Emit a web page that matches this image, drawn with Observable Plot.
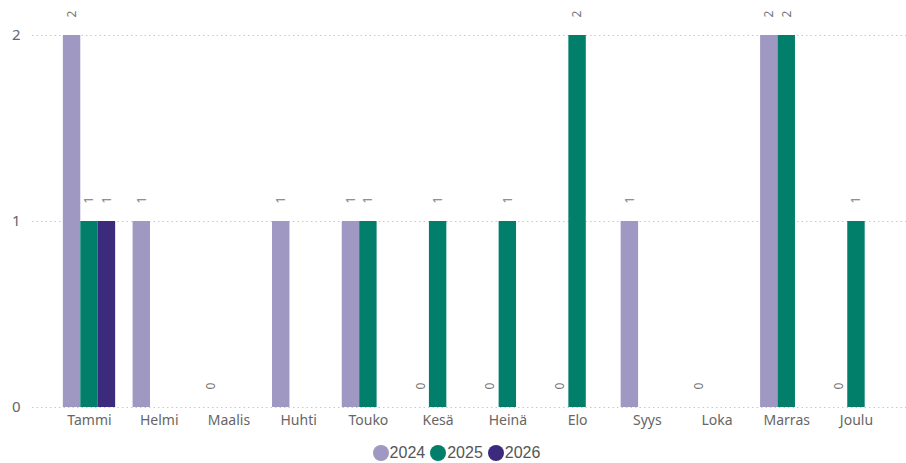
<!DOCTYPE html>
<html>
<head>
<meta charset="utf-8">
<script src="https://cdn.jsdelivr.net/npm/d3@7"></script>
<script src="https://cdn.jsdelivr.net/npm/@observablehq/plot@0.6"></script>
<style>
  body { margin: 0; background: #fff; font-family: "Segoe UI", "Noto Sans", sans-serif; overflow: hidden; }
  #chart svg { display: block; }
  #legend { display: flex; justify-content: center; align-items: center; height: 20px; line-height: 16px; margin-top: 3px; margin-left: 12px; font-family: "Liberation Sans", Arial, sans-serif; font-size: 16px; color: #555; }
  .item { display: flex; align-items: center; margin: 0 5px 0 0; }
  .dot { width: 16px; height: 16px; border-radius: 50%; margin-right: 1px; }
</style>
</head>
<body>
<div id="chart"></div>
<div id="legend"></div>
<script>
const months = ["Tammi","Helmi","Maalis","Huhti","Touko","Kesä","Heinä","Elo","Syys","Loka","Marras","Joulu"];
const years = ["2024","2025","2026"];
const v2024 = [2,1,0,1,1,0,0,0,1,0,2,0];
const v2025 = [1,null,null,null,1,1,1,2,null,null,2,1];
const v2026 = [1,null,null,null,null,null,null,null,null,null,null,null];
const colors = ["#9E98C2","#027F6B","#3C2A7D"];
const yTicks = [0,1,2];

const series = [v2024, v2025, v2026];
const key = (m, y) => m + "|" + y;
// band domain: three bars per month plus one empty gap band
const xDomain = months.flatMap(m => [...years.map(y => key(m, y)), key(m, "gap")]);
const monthTicks = months.map(m => key(m, years[1]));
const data = [];
months.forEach((m, i) => {
  years.forEach((y, j) => {
    const v = series[j][i];
    if (v != null) data.push({k: key(m, y), month: m, year: y, value: v});
  });
});

const chart = Plot.plot({
  width: 906,
  height: 440,
  marginTop: 35,
  marginBottom: 33,
  marginLeft: 32,
  marginRight: 0,
  style: {fontFamily: "'Segoe UI', 'Noto Sans', sans-serif", color: "#666"},
  x: {domain: xDomain, paddingInner: 0, paddingOuter: 1.07, align: 0.827, round: false, axis: null},
  y: {domain: [0, 2], label: null, axis: null},
  color: {domain: years, range: colors},
  marks: [
    Plot.ruleY(yTicks, {stroke: "#c8c8c8", strokeDasharray: "1.5,3", strokeWidth: 1}),
    Plot.axisY(yTicks, {tickSize: 0, tickPadding: 12, fontSize: 15, tickFormat: d => d, label: null, fill: "#666"}),
    Plot.axisX(monthTicks, {tickSize: 0, tickPadding: 8, fontSize: 14, tickFormat: d => d.split("|")[0], label: null, fill: "#666"}),
    Plot.barY(data, {x: "k", y: "value", fill: "year"}),
    Plot.text(data, {x: "k", y: "value", text: d => String(d.value), rotate: -90, textAnchor: "start", lineAnchor: "middle", dy: -18, fontSize: 12, fill: "#777"})
  ]
});
document.getElementById("chart").appendChild(chart);

const legend = document.getElementById("legend");
years.forEach((y, i) => {
  const it = document.createElement("div");
  it.className = "item";
  const dot = document.createElement("span");
  dot.className = "dot";
  dot.style.background = colors[i];
  const t = document.createElement("span");
  t.textContent = y;
  it.appendChild(dot);
  it.appendChild(t);
  legend.appendChild(it);
});
</script>
</body>
</html>
